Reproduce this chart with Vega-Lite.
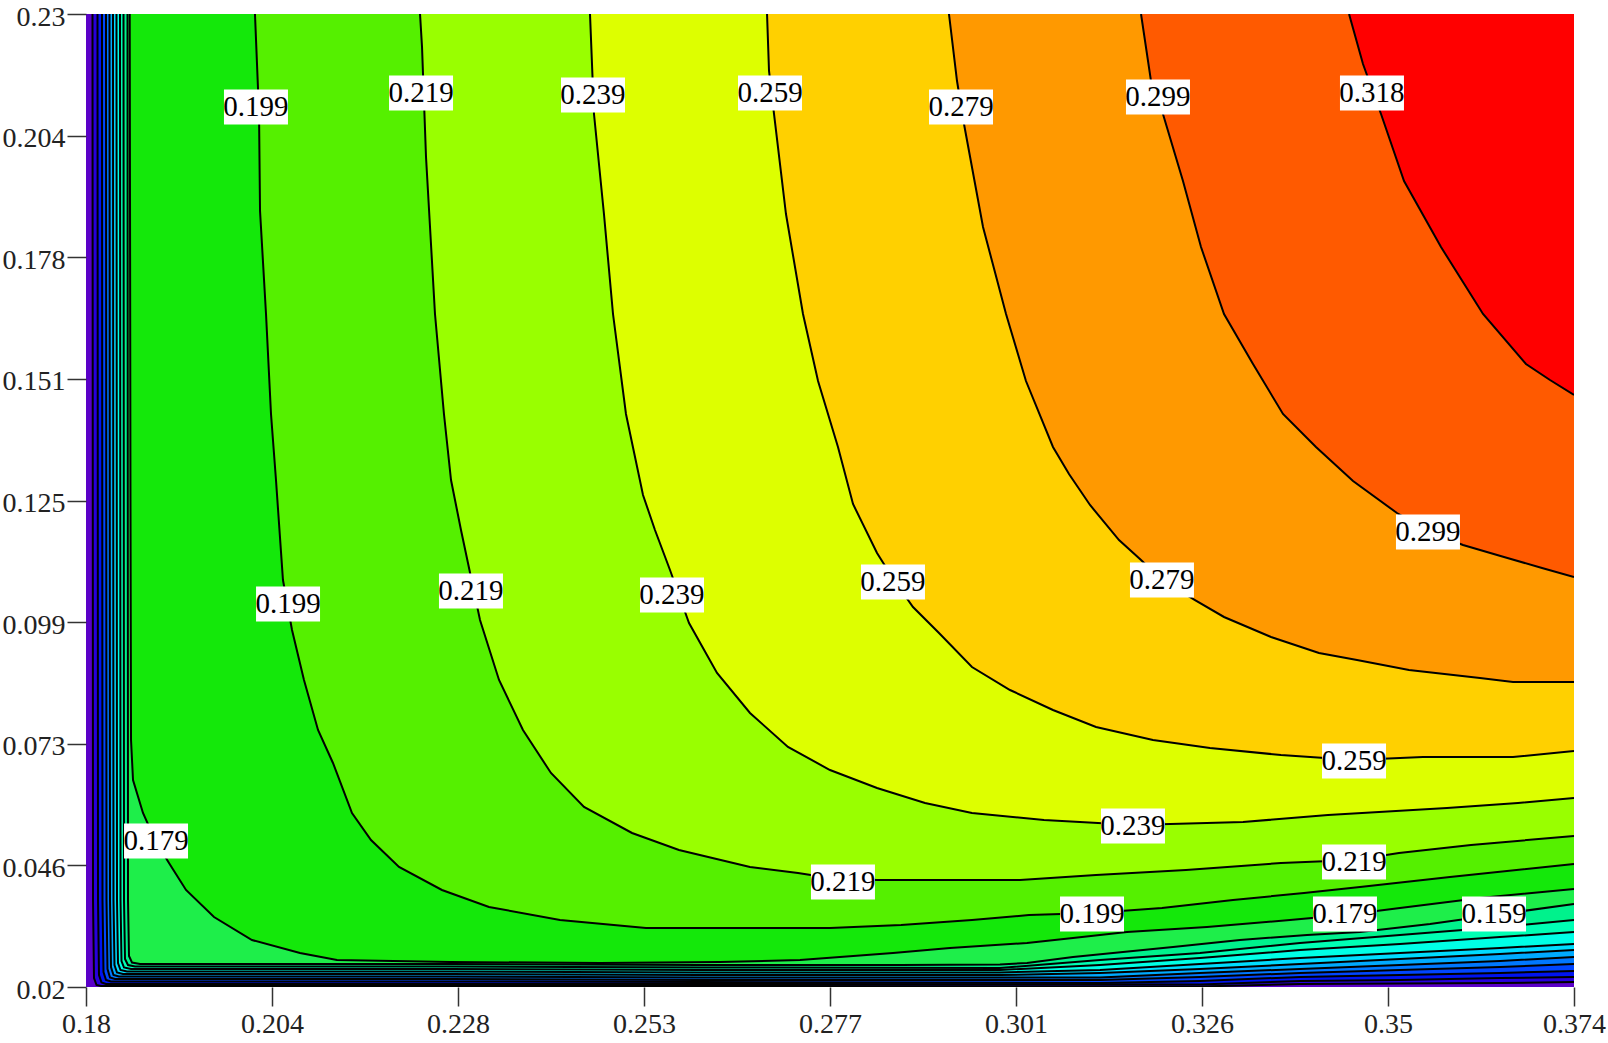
{
  "$schema": "https://vega.github.io/schema/vega-lite/v6.json",
  "width": 1488,
  "height": 973,
  "autosize": {"type": "none"},
  "padding": {"left": 86, "top": 14, "right": 34, "bottom": 56},
  "background": "white",
  "config": {
    "view": {"fill": "#5A00C8", "stroke": null},
    "axis": {
      "labelFont": "Liberation Serif",
      "labelFontSize": 28,
      "labelColor": "#222222",
      "labelFlush": false,
      "labelOverlap": false,
      "tickColor": "#333333",
      "tickWidth": 1.5,
      "tickSize": 19,
      "domain": false,
      "grid": false,
      "title": null
    }
  },
  "datasets": {
    "contours": [
      {"level": -0.018, "x": 0.180847, "y": 0.23},
      {"level": -0.018, "x": 0.180913, "y": 0.038777},
      {"level": -0.018, "x": 0.181043, "y": 0.021942},
      {"level": -0.018, "x": 0.181369, "y": 0.020432},
      {"level": -0.018, "x": 0.181956, "y": 0.020216},
      {"level": -0.018, "x": 0.22746, "y": 0.020216},
      {"level": -0.018, "x": 0.26005, "y": 0.020216},
      {"level": -0.018, "x": 0.32524, "y": 0.020108},
      {"level": -0.018, "x": 0.33828, "y": 0.020647},
      {"level": -0.018, "x": 0.35131, "y": 0.020755},
      {"level": -0.018, "x": 0.36435, "y": 0.020863},
      {"level": -0.018, "x": 0.374, "y": 0.021079},

      {"level": 0.002, "x": 0.181499, "y": 0.23},
      {"level": 0.002, "x": 0.181565, "y": 0.038777},
      {"level": 0.002, "x": 0.181695, "y": 0.02259},
      {"level": 0.002, "x": 0.182021, "y": 0.020971},
      {"level": 0.002, "x": 0.182608, "y": 0.020647},
      {"level": 0.002, "x": 0.22746, "y": 0.020647},
      {"level": 0.002, "x": 0.26005, "y": 0.020647},
      {"level": 0.002, "x": 0.32524, "y": 0.02054},
      {"level": 0.002, "x": 0.33828, "y": 0.021295},
      {"level": 0.002, "x": 0.35131, "y": 0.021511},
      {"level": 0.002, "x": 0.36435, "y": 0.021942},
      {"level": 0.002, "x": 0.374, "y": 0.022158},

      {"level": 0.021, "x": 0.182086, "y": 0.23},
      {"level": 0.021, "x": 0.182151, "y": 0.038777},
      {"level": 0.021, "x": 0.182282, "y": 0.023237},
      {"level": 0.021, "x": 0.182608, "y": 0.021511},
      {"level": 0.021, "x": 0.183259, "y": 0.021187},
      {"level": 0.021, "x": 0.22746, "y": 0.021187},
      {"level": 0.021, "x": 0.26005, "y": 0.021079},
      {"level": 0.021, "x": 0.3122, "y": 0.020863},
      {"level": 0.021, "x": 0.32524, "y": 0.021295},
      {"level": 0.021, "x": 0.33828, "y": 0.022158},
      {"level": 0.021, "x": 0.35131, "y": 0.02259},
      {"level": 0.021, "x": 0.36435, "y": 0.023022},
      {"level": 0.021, "x": 0.374, "y": 0.023453},

      {"level": 0.041, "x": 0.182608, "y": 0.23},
      {"level": 0.041, "x": 0.182673, "y": 0.038777},
      {"level": 0.041, "x": 0.182803, "y": 0.023885},
      {"level": 0.041, "x": 0.183129, "y": 0.02205},
      {"level": 0.041, "x": 0.183781, "y": 0.021727},
      {"level": 0.041, "x": 0.22746, "y": 0.021727},
      {"level": 0.041, "x": 0.26005, "y": 0.021511},
      {"level": 0.041, "x": 0.3122, "y": 0.021511},
      {"level": 0.041, "x": 0.32524, "y": 0.022158},
      {"level": 0.041, "x": 0.33828, "y": 0.023022},
      {"level": 0.041, "x": 0.35131, "y": 0.023669},
      {"level": 0.041, "x": 0.36435, "y": 0.024317},
      {"level": 0.041, "x": 0.374, "y": 0.024964},

      {"level": 0.061, "x": 0.183064, "y": 0.23},
      {"level": 0.061, "x": 0.183129, "y": 0.038777},
      {"level": 0.061, "x": 0.183259, "y": 0.024317},
      {"level": 0.061, "x": 0.183585, "y": 0.02259},
      {"level": 0.061, "x": 0.184302, "y": 0.022266},
      {"level": 0.061, "x": 0.22746, "y": 0.022266},
      {"level": 0.061, "x": 0.26005, "y": 0.02205},
      {"level": 0.061, "x": 0.3122, "y": 0.02205},
      {"level": 0.061, "x": 0.32524, "y": 0.023022},
      {"level": 0.061, "x": 0.33828, "y": 0.023885},
      {"level": 0.061, "x": 0.35131, "y": 0.024748},
      {"level": 0.061, "x": 0.36435, "y": 0.025612},
      {"level": 0.061, "x": 0.374, "y": 0.02647},

      {"level": 0.08, "x": 0.18352, "y": 0.23},
      {"level": 0.08, "x": 0.183585, "y": 0.038777},
      {"level": 0.08, "x": 0.183716, "y": 0.024748},
      {"level": 0.08, "x": 0.184042, "y": 0.023129},
      {"level": 0.08, "x": 0.184824, "y": 0.022806},
      {"level": 0.08, "x": 0.22746, "y": 0.022806},
      {"level": 0.08, "x": 0.26005, "y": 0.02259},
      {"level": 0.08, "x": 0.29916, "y": 0.02259},
      {"level": 0.08, "x": 0.3122, "y": 0.023022},
      {"level": 0.08, "x": 0.32524, "y": 0.023885},
      {"level": 0.08, "x": 0.33828, "y": 0.024964},
      {"level": 0.08, "x": 0.35131, "y": 0.026043},
      {"level": 0.08, "x": 0.36435, "y": 0.027122},
      {"level": 0.08, "x": 0.374, "y": 0.027986},

      {"level": 0.1, "x": 0.183976, "y": 0.23},
      {"level": 0.1, "x": 0.184042, "y": 0.038777},
      {"level": 0.1, "x": 0.184172, "y": 0.02518},
      {"level": 0.1, "x": 0.184498, "y": 0.023669},
      {"level": 0.1, "x": 0.185345, "y": 0.023345},
      {"level": 0.1, "x": 0.22746, "y": 0.023345},
      {"level": 0.1, "x": 0.26005, "y": 0.023129},
      {"level": 0.1, "x": 0.29916, "y": 0.023129},
      {"level": 0.1, "x": 0.3122, "y": 0.023669},
      {"level": 0.1, "x": 0.32524, "y": 0.024964},
      {"level": 0.1, "x": 0.33828, "y": 0.026259},
      {"level": 0.1, "x": 0.35131, "y": 0.027338},
      {"level": 0.1, "x": 0.36435, "y": 0.028417},
      {"level": 0.1, "x": 0.374, "y": 0.029281},

      {"level": 0.12, "x": 0.184433, "y": 0.23},
      {"level": 0.12, "x": 0.184498, "y": 0.038777},
      {"level": 0.12, "x": 0.184628, "y": 0.025612},
      {"level": 0.12, "x": 0.184954, "y": 0.024209},
      {"level": 0.12, "x": 0.185867, "y": 0.023885},
      {"level": 0.12, "x": 0.22746, "y": 0.023885},
      {"level": 0.12, "x": 0.26005, "y": 0.023669},
      {"level": 0.12, "x": 0.29916, "y": 0.023669},
      {"level": 0.12, "x": 0.3122, "y": 0.024748},
      {"level": 0.12, "x": 0.32524, "y": 0.026259},
      {"level": 0.12, "x": 0.33828, "y": 0.027986},
      {"level": 0.12, "x": 0.35131, "y": 0.029281},
      {"level": 0.12, "x": 0.36435, "y": 0.030791},
      {"level": 0.12, "x": 0.374, "y": 0.03187},

      {"level": 0.139, "x": 0.184889, "y": 0.23},
      {"level": 0.139, "x": 0.184954, "y": 0.038777},
      {"level": 0.139, "x": 0.185085, "y": 0.026043},
      {"level": 0.139, "x": 0.185476, "y": 0.024748},
      {"level": 0.139, "x": 0.186388, "y": 0.024424},
      {"level": 0.139, "x": 0.22746, "y": 0.024424},
      {"level": 0.139, "x": 0.26005, "y": 0.024209},
      {"level": 0.139, "x": 0.29916, "y": 0.024101},
      {"level": 0.139, "x": 0.3122, "y": 0.025827},
      {"level": 0.139, "x": 0.32524, "y": 0.027338},
      {"level": 0.139, "x": 0.33828, "y": 0.029496},
      {"level": 0.139, "x": 0.35131, "y": 0.031223},
      {"level": 0.139, "x": 0.36435, "y": 0.03295},
      {"level": 0.139, "x": 0.374, "y": 0.03446},

      {"level": 0.159, "x": 0.185411, "y": 0.23},
      {"level": 0.159, "x": 0.185476, "y": 0.038777},
      {"level": 0.159, "x": 0.185606, "y": 0.026691},
      {"level": 0.159, "x": 0.185997, "y": 0.025288},
      {"level": 0.159, "x": 0.18704, "y": 0.024964},
      {"level": 0.159, "x": 0.22746, "y": 0.024964},
      {"level": 0.159, "x": 0.26005, "y": 0.024748},
      {"level": 0.159, "x": 0.28613, "y": 0.024748},
      {"level": 0.159, "x": 0.29916, "y": 0.024856},
      {"level": 0.159, "x": 0.30268, "y": 0.02518},
      {"level": 0.159, "x": 0.30868, "y": 0.02647},
      {"level": 0.159, "x": 0.3152, "y": 0.027554},
      {"level": 0.159, "x": 0.32172, "y": 0.028633},
      {"level": 0.159, "x": 0.33045, "y": 0.030144},
      {"level": 0.159, "x": 0.33919, "y": 0.031223},
      {"level": 0.159, "x": 0.3461, "y": 0.03187},
      {"level": 0.159, "x": 0.35523, "y": 0.033597},
      {"level": 0.159, "x": 0.36357, "y": 0.03554},
      {"level": 0.159, "x": 0.374, "y": 0.037914},

      {"level": 0.179, "x": 0.1857, "y": 0.23},
      {"level": 0.179, "x": 0.1858, "y": 0.12511},
      {"level": 0.179, "x": 0.18587, "y": 0.07331},
      {"level": 0.179, "x": 0.18613, "y": 0.06468},
      {"level": 0.179, "x": 0.18743, "y": 0.05755},
      {"level": 0.179, "x": 0.189, "y": 0.05173},
      {"level": 0.179, "x": 0.19082, "y": 0.04676},
      {"level": 0.179, "x": 0.19304, "y": 0.04094},
      {"level": 0.179, "x": 0.19669, "y": 0.03511},
      {"level": 0.179, "x": 0.20164, "y": 0.03014},
      {"level": 0.179, "x": 0.2079, "y": 0.02734},
      {"level": 0.179, "x": 0.21272, "y": 0.02583},
      {"level": 0.179, "x": 0.22746, "y": 0.0254},
      {"level": 0.179, "x": 0.24701, "y": 0.02518},
      {"level": 0.179, "x": 0.26266, "y": 0.0254},
      {"level": 0.179, "x": 0.27309, "y": 0.02583},
      {"level": 0.179, "x": 0.2783, "y": 0.02647},
      {"level": 0.179, "x": 0.28521, "y": 0.02734},
      {"level": 0.179, "x": 0.29264, "y": 0.02842},
      {"level": 0.179, "x": 0.30268, "y": 0.0295},
      {"level": 0.179, "x": 0.30868, "y": 0.03058},
      {"level": 0.179, "x": 0.31572, "y": 0.03187},
      {"level": 0.179, "x": 0.32615, "y": 0.03295},
      {"level": 0.179, "x": 0.33697, "y": 0.03446},
      {"level": 0.179, "x": 0.34414, "y": 0.03554},
      {"level": 0.179, "x": 0.35131, "y": 0.03705},
      {"level": 0.179, "x": 0.36174, "y": 0.03921},
      {"level": 0.179, "x": 0.374, "y": 0.04115},

      {"level": 0.199, "x": 0.20203, "y": 0.23},
      {"level": 0.199, "x": 0.20256, "y": 0.20842},
      {"level": 0.199, "x": 0.20269, "y": 0.18748},
      {"level": 0.199, "x": 0.20347, "y": 0.16525},
      {"level": 0.199, "x": 0.20412, "y": 0.14367},
      {"level": 0.199, "x": 0.20477, "y": 0.12942},
      {"level": 0.199, "x": 0.20568, "y": 0.10784},
      {"level": 0.199, "x": 0.20686, "y": 0.09705},
      {"level": 0.199, "x": 0.20842, "y": 0.08626},
      {"level": 0.199, "x": 0.21025, "y": 0.07547},
      {"level": 0.199, "x": 0.2122, "y": 0.06835},
      {"level": 0.199, "x": 0.21468, "y": 0.05755},
      {"level": 0.199, "x": 0.21716, "y": 0.05173},
      {"level": 0.199, "x": 0.22081, "y": 0.0459},
      {"level": 0.199, "x": 0.22641, "y": 0.04094},
      {"level": 0.199, "x": 0.23254, "y": 0.03727},
      {"level": 0.199, "x": 0.2418, "y": 0.03446},
      {"level": 0.199, "x": 0.25301, "y": 0.03273},
      {"level": 0.199, "x": 0.277, "y": 0.03273},
      {"level": 0.199, "x": 0.28626, "y": 0.03338},
      {"level": 0.199, "x": 0.29551, "y": 0.03446},
      {"level": 0.199, "x": 0.30294, "y": 0.03554},
      {"level": 0.199, "x": 0.31129, "y": 0.03597},
      {"level": 0.199, "x": 0.32028, "y": 0.03705},
      {"level": 0.199, "x": 0.32954, "y": 0.03878},
      {"level": 0.199, "x": 0.3388, "y": 0.04029},
      {"level": 0.199, "x": 0.3461, "y": 0.04158},
      {"level": 0.199, "x": 0.35783, "y": 0.04374},
      {"level": 0.199, "x": 0.374, "y": 0.04655},

      {"level": 0.219, "x": 0.22355, "y": 0.23},
      {"level": 0.219, "x": 0.22381, "y": 0.22288},
      {"level": 0.219, "x": 0.22433, "y": 0.19914},
      {"level": 0.219, "x": 0.2255, "y": 0.16525},
      {"level": 0.219, "x": 0.22667, "y": 0.14367},
      {"level": 0.219, "x": 0.22759, "y": 0.12942},
      {"level": 0.219, "x": 0.22889, "y": 0.11863},
      {"level": 0.219, "x": 0.2298, "y": 0.11151},
      {"level": 0.219, "x": 0.23137, "y": 0.09921},
      {"level": 0.219, "x": 0.23385, "y": 0.08626},
      {"level": 0.219, "x": 0.23697, "y": 0.07547},
      {"level": 0.219, "x": 0.24062, "y": 0.06619},
      {"level": 0.219, "x": 0.24493, "y": 0.05885},
      {"level": 0.219, "x": 0.25119, "y": 0.05324},
      {"level": 0.219, "x": 0.25731, "y": 0.04957},
      {"level": 0.219, "x": 0.26657, "y": 0.0459},
      {"level": 0.219, "x": 0.27283, "y": 0.0446},
      {"level": 0.219, "x": 0.277, "y": 0.04353},
      {"level": 0.219, "x": 0.28313, "y": 0.04309},
      {"level": 0.219, "x": 0.30177, "y": 0.04309},
      {"level": 0.219, "x": 0.31168, "y": 0.04417},
      {"level": 0.219, "x": 0.32341, "y": 0.04525},
      {"level": 0.219, "x": 0.3358, "y": 0.04676},
      {"level": 0.219, "x": 0.34532, "y": 0.04741},
      {"level": 0.219, "x": 0.35118, "y": 0.04892},
      {"level": 0.219, "x": 0.36057, "y": 0.05065},
      {"level": 0.219, "x": 0.374, "y": 0.05259},

      {"level": 0.239, "x": 0.24571, "y": 0.23},
      {"level": 0.239, "x": 0.24623, "y": 0.20842},
      {"level": 0.239, "x": 0.24753, "y": 0.18683},
      {"level": 0.239, "x": 0.24871, "y": 0.16525},
      {"level": 0.239, "x": 0.2504, "y": 0.14367},
      {"level": 0.239, "x": 0.25262, "y": 0.12619},
      {"level": 0.239, "x": 0.25418, "y": 0.11863},
      {"level": 0.239, "x": 0.25614, "y": 0.11},
      {"level": 0.239, "x": 0.25862, "y": 0.09856},
      {"level": 0.239, "x": 0.26227, "y": 0.08777},
      {"level": 0.239, "x": 0.26657, "y": 0.07914},
      {"level": 0.239, "x": 0.27152, "y": 0.0718},
      {"level": 0.239, "x": 0.277, "y": 0.06683},
      {"level": 0.239, "x": 0.28313, "y": 0.06295},
      {"level": 0.239, "x": 0.28939, "y": 0.05971},
      {"level": 0.239, "x": 0.29551, "y": 0.05755},
      {"level": 0.239, "x": 0.3049, "y": 0.05604},
      {"level": 0.239, "x": 0.31663, "y": 0.05496},
      {"level": 0.239, "x": 0.33085, "y": 0.05561},
      {"level": 0.239, "x": 0.34193, "y": 0.05712},
      {"level": 0.239, "x": 0.35744, "y": 0.05863},
      {"level": 0.239, "x": 0.3667, "y": 0.05971},
      {"level": 0.239, "x": 0.374, "y": 0.06079},

      {"level": 0.259, "x": 0.26879, "y": 0.23},
      {"level": 0.259, "x": 0.26905, "y": 0.2177},
      {"level": 0.259, "x": 0.2697, "y": 0.20842},
      {"level": 0.259, "x": 0.27126, "y": 0.18683},
      {"level": 0.259, "x": 0.27348, "y": 0.16525},
      {"level": 0.259, "x": 0.27544, "y": 0.15079},
      {"level": 0.259, "x": 0.27804, "y": 0.13655},
      {"level": 0.259, "x": 0.28, "y": 0.12424},
      {"level": 0.259, "x": 0.28313, "y": 0.11367},
      {"level": 0.259, "x": 0.28534, "y": 0.10784},
      {"level": 0.259, "x": 0.28782, "y": 0.10201},
      {"level": 0.259, "x": 0.29121, "y": 0.0964},
      {"level": 0.259, "x": 0.29551, "y": 0.08906},
      {"level": 0.259, "x": 0.30047, "y": 0.0841},
      {"level": 0.259, "x": 0.30607, "y": 0.07978},
      {"level": 0.259, "x": 0.31168, "y": 0.07612},
      {"level": 0.259, "x": 0.31911, "y": 0.07331},
      {"level": 0.259, "x": 0.32654, "y": 0.07158},
      {"level": 0.259, "x": 0.3358, "y": 0.07007},
      {"level": 0.259, "x": 0.34532, "y": 0.06899},
      {"level": 0.259, "x": 0.35431, "y": 0.06964},
      {"level": 0.259, "x": 0.36605, "y": 0.06964},
      {"level": 0.259, "x": 0.374, "y": 0.07094},

      {"level": 0.279, "x": 0.29251, "y": 0.23},
      {"level": 0.279, "x": 0.29356, "y": 0.21554},
      {"level": 0.279, "x": 0.29447, "y": 0.20626},
      {"level": 0.279, "x": 0.29695, "y": 0.18403},
      {"level": 0.279, "x": 0.29995, "y": 0.16525},
      {"level": 0.279, "x": 0.30255, "y": 0.15079},
      {"level": 0.279, "x": 0.30607, "y": 0.13655},
      {"level": 0.279, "x": 0.30816, "y": 0.13072},
      {"level": 0.279, "x": 0.3109, "y": 0.12403},
      {"level": 0.279, "x": 0.31468, "y": 0.11647},
      {"level": 0.279, "x": 0.31755, "y": 0.11216},
      {"level": 0.279, "x": 0.32028, "y": 0.10784},
      {"level": 0.279, "x": 0.32459, "y": 0.10352},
      {"level": 0.279, "x": 0.32837, "y": 0.09986},
      {"level": 0.279, "x": 0.3345, "y": 0.09554},
      {"level": 0.279, "x": 0.34075, "y": 0.09209},
      {"level": 0.279, "x": 0.34571, "y": 0.09058},
      {"level": 0.279, "x": 0.35249, "y": 0.08842},
      {"level": 0.279, "x": 0.36174, "y": 0.08669},
      {"level": 0.279, "x": 0.36605, "y": 0.08583},
      {"level": 0.279, "x": 0.374, "y": 0.08583},

      {"level": 0.299, "x": 0.31755, "y": 0.23},
      {"level": 0.299, "x": 0.31885, "y": 0.21554},
      {"level": 0.299, "x": 0.32041, "y": 0.20842},
      {"level": 0.299, "x": 0.32302, "y": 0.19396},
      {"level": 0.299, "x": 0.32537, "y": 0.17971},
      {"level": 0.299, "x": 0.32837, "y": 0.16525},
      {"level": 0.299, "x": 0.33215, "y": 0.15446},
      {"level": 0.299, "x": 0.33606, "y": 0.14367},
      {"level": 0.299, "x": 0.34036, "y": 0.13655},
      {"level": 0.299, "x": 0.34519, "y": 0.12921},
      {"level": 0.299, "x": 0.35092, "y": 0.1223},
      {"level": 0.299, "x": 0.35523, "y": 0.1182},
      {"level": 0.299, "x": 0.35953, "y": 0.1154},
      {"level": 0.299, "x": 0.36487, "y": 0.11281},
      {"level": 0.299, "x": 0.36983, "y": 0.11043},
      {"level": 0.299, "x": 0.374, "y": 0.10849},

      {"level": 0.318, "x": 0.34467, "y": 0.23},
      {"level": 0.318, "x": 0.34649, "y": 0.21921},
      {"level": 0.318, "x": 0.34884, "y": 0.20842},
      {"level": 0.318, "x": 0.35184, "y": 0.19396},
      {"level": 0.318, "x": 0.35666, "y": 0.17971},
      {"level": 0.318, "x": 0.36214, "y": 0.16525},
      {"level": 0.318, "x": 0.36774, "y": 0.15446},
      {"level": 0.318, "x": 0.37087, "y": 0.15101},
      {"level": 0.318, "x": 0.374, "y": 0.14777}
    ],
    "labels": [
      {"label": "0.199", "x": 0.20216, "y": 0.20993},
      {"label": "0.219", "x": 0.22368, "y": 0.21295},
      {"label": "0.239", "x": 0.2461, "y": 0.21252},
      {"label": "0.259", "x": 0.26918, "y": 0.21295},
      {"label": "0.279", "x": 0.29408, "y": 0.20993},
      {"label": "0.299", "x": 0.31976, "y": 0.21209},
      {"label": "0.318", "x": 0.34766, "y": 0.21295},
      {"label": "0.199", "x": 0.20634, "y": 0.10266},
      {"label": "0.219", "x": 0.23019, "y": 0.10547},
      {"label": "0.239", "x": 0.2564, "y": 0.1046},
      {"label": "0.259", "x": 0.28521, "y": 0.10741},
      {"label": "0.279", "x": 0.32028, "y": 0.10784},
      {"label": "0.299", "x": 0.35496, "y": 0.1182},
      {"label": "0.179", "x": 0.18913, "y": 0.05151},
      {"label": "0.259", "x": 0.34532, "y": 0.06878},
      {"label": "0.239", "x": 0.3165, "y": 0.05475},
      {"label": "0.219", "x": 0.34532, "y": 0.04698},
      {"label": "0.219", "x": 0.27869, "y": 0.04266},
      {"label": "0.199", "x": 0.31116, "y": 0.03576},
      {"label": "0.179", "x": 0.34414, "y": 0.03576},
      {"label": "0.159", "x": 0.36357, "y": 0.03576}
    ]
  },
  "encoding": {
    "x": {
      "field": "x",
      "type": "quantitative",
      "scale": {"domain": [0.18, 0.374], "nice": false, "zero": false},
      "axis": {
        "values": [0.18, 0.20425, 0.2285, 0.25275, 0.277, 0.30125, 0.3255, 0.34975, 0.374],
        "labelExpr": "['0.18','0.204','0.228','0.253','0.277','0.301','0.326','0.35','0.374'][round((datum.value-0.18)/0.02425)]",
        "labelPadding": 4
      }
    },
    "y": {
      "field": "y",
      "type": "quantitative",
      "scale": {"domain": [0.02, 0.23], "nice": false, "zero": false},
      "axis": {
        "values": [0.02, 0.04625, 0.0725, 0.09875, 0.125, 0.15125, 0.1775, 0.20375, 0.23],
        "labelExpr": "['0.02','0.046','0.073','0.099','0.125','0.151','0.178','0.204','0.23'][round((datum.value-0.02)/0.02625)]",
        "labelPadding": 2,
        "labelOffset": 3
      }
    }
  },
  "layer": [
    {
      "data": {"name": "contours"},
      "mark": {"type": "area", "clip": true, "interpolate": "linear", "opacity": 1},
      "encoding": {
        "y": {"field": "y", "type": "quantitative", "stack": null},
        "y2": {"datum": 0.23},
        "color": {
          "field": "level",
          "type": "ordinal",
          "legend": null,
          "scale": {
            "domain": [-0.018, 0.002, 0.021, 0.041, 0.061, 0.08, 0.1, 0.12, 0.139, 0.159, 0.179, 0.199, 0.219, 0.239, 0.259, 0.279, 0.299, 0.318],
            "range": ["#2800DC", "#0014F0", "#0046FF", "#0078FF", "#00AAFF", "#00DCFF", "#00FFE6", "#00FFB4", "#00F28C", "#1EEE4A", "#14E80A", "#55F000", "#99FF00", "#DDFF00", "#FFD000", "#FF9900", "#FF5A00", "#FF0000"]
          }
        }
      }
    },
    {
      "data": {"name": "contours"},
      "mark": {"type": "line", "clip": true, "color": "black", "strokeWidth": 2},
      "encoding": {
        "detail": {"field": "level", "type": "nominal"}
      }
    },
    {
      "data": {"name": "labels"},
      "mark": {"type": "point", "shape": "M-1,-0.55H1V0.55H-1Z", "filled": true, "fill": "white", "opacity": 1, "size": 4096, "strokeWidth": 0},
      "encoding": {}
    },
    {
      "data": {"name": "labels"},
      "mark": {"type": "text", "font": "Liberation Serif", "fontSize": 29, "baseline": "middle", "align": "center", "color": "black"},
      "encoding": {"text": {"field": "label"}}
    },
    {
      "data": {"values": [{}]},
      "mark": {"type": "rect", "fillOpacity": 0, "stroke": "black", "strokeWidth": 1.5},
      "encoding": {
        "x": {"datum": 0.18},
        "x2": {"datum": 0.374},
        "y": {"datum": 0.02},
        "y2": {"datum": 0.23}
      }
    }
  ]
}
